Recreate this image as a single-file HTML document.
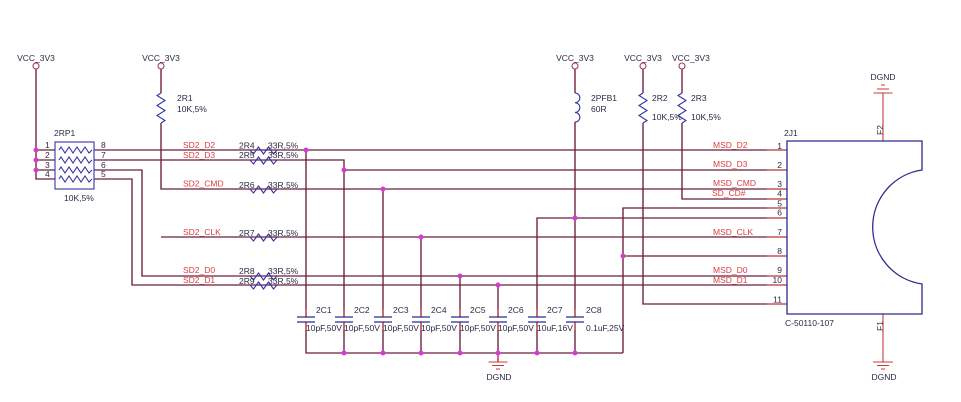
<!DOCTYPE html>
<html><head><meta charset="utf-8"><style>
html,body{margin:0;padding:0;background:#fff;width:961px;height:402px;overflow:hidden}
svg{display:block}
text{font-family:"Liberation Sans",Arial,sans-serif;font-size:8.5px;fill:#2a2a45}
.r{fill:#d8403f}
.w{stroke:#6b1d3d;stroke-width:1.35;fill:none}
.b{stroke:#3535a5;stroke-width:1.1;fill:none}
.p{stroke:#c83a3a;stroke-width:1.1;fill:none}
.d{fill:#d23cd2}
</style></head><body>
<svg width="961" height="402" viewBox="0 0 961 402" xmlns="http://www.w3.org/2000/svg">
<rect width="961" height="402" fill="#fff"/>
<g class="w">
<path d="M36,69 V179 H55 M36,150 H55 M36,160 H55 M36,170 H55"/>
<path d="M94,150 H787"/>
<path d="M94,160 H344 V317"/>
<path d="M344,170 H787"/>
<path d="M94,170 H142 V276 H787"/>
<path d="M94,179 H132 V285 H787"/>
<path d="M161,69 V93 M161,123 V189 H787"/>
<path d="M161,237 H787"/>
<path d="M306,150 V317 M383,189 V317 M421,237 V317 M460,276 V317 M498,285 V317"/>
<path d="M537,317 V218 H787"/>
<path d="M575,69 V93 M575,122 V317"/>
<path d="M643,69 V93 M643,123 V304 H787"/>
<path d="M682,69 V93 M682,123 V199 H787"/>
<path d="M787,208 H623 V353 M623,256 H787"/>
<path d="M306,322 V353 H623 M344,322 V353 M383,322 V353 M421,322 V353 M460,322 V353 M498,322 V362 M537,322 V353 M575,322 V353"/>
</g>
<g fill="#fff" stroke="#a83a4a" stroke-width="1.1">
<circle cx="36" cy="66" r="3"/><circle cx="161" cy="66" r="3"/><circle cx="575" cy="66" r="3"/><circle cx="643" cy="66" r="3"/><circle cx="682" cy="66" r="3"/>
</g>
<g class="b">
<path d="M161,93 l-4,2.5 l8,5 l-8,5 l8,5 l-8,5 l8,5 l-4,2.5"/>
<path d="M643,93 l-4,2.5 l8,5 l-8,5 l8,5 l-8,5 l8,5 l-4,2.5"/>
<path d="M682,93 l-4,2.5 l8,5 l-8,5 l8,5 l-8,5 l8,5 l-4,2.5"/>
<path d="M575,93 a4.8,4.8 0 0 1 0,9.7 a4.8,4.8 0 0 1 0,9.7 a4.8,4.8 0 0 1 0,9.7"/>
</g>
<g class="b">
<path d="M250,150 l3.5,4 l5,-7 l5,7 l5,-7 l5,7 l3.5,-4"/>
<path d="M250,160 l3.5,4 l5,-7 l5,7 l5,-7 l5,7 l3.5,-4"/>
<path d="M250,189 l3.5,4 l5,-7 l5,7 l5,-7 l5,7 l3.5,-4"/>
<path d="M250,237 l3.5,4 l5,-7 l5,7 l5,-7 l5,7 l3.5,-4"/>
<path d="M250,276 l3.5,4 l5,-7 l5,7 l5,-7 l5,7 l3.5,-4"/>
<path d="M250,285 l3.5,4 l5,-7 l5,7 l5,-7 l5,7 l3.5,-4"/>
</g>
<rect x="55" y="142" width="39" height="47" fill="none" stroke="#3535a5" stroke-width="1.1"/>
<g class="b">
<path d="M59,150 l2,-3 l4,6 l4,-6 l4,6 l4,-6 l4,6 l4,-6 l4,6 l3,-3"/>
<path d="M59,160 l2,-3 l4,6 l4,-6 l4,6 l4,-6 l4,6 l4,-6 l4,6 l3,-3"/>
<path d="M59,170 l2,-3 l4,6 l4,-6 l4,6 l4,-6 l4,6 l4,-6 l4,6 l3,-3"/>
<path d="M59,179 l2,-3 l4,6 l4,-6 l4,6 l4,-6 l4,6 l4,-6 l4,6 l3,-3"/>
</g>
<g class="p">
<path d="M306,309 V317 M306,322 V330 M344,309 V317 M344,322 V330 M383,309 V317 M383,322 V330 M421,309 V317 M421,322 V330 M460,309 V317 M460,322 V330 M498,309 V317 M498,322 V330 M537,309 V317 M537,322 V330 M575,309 V317 M575,322 V330"/>
</g>
<g stroke="#2a2a90" stroke-width="1.3">
<path d="M297,317 H315 M297,322 H315 M335,317 H353 M335,322 H353 M374,317 H392 M374,322 H392 M412,317 H430 M412,322 H430 M451,317 H469 M451,322 H469 M489,317 H507 M489,322 H507 M528,317 H546 M528,322 H546 M566,317 H584 M566,322 H584"/>
</g>
<g class="p">
<path d="M767,150 H787 M767,170 H787 M767,189 H787 M767,199 H787 M767,208 H787 M767,218 H787 M767,237 H787 M767,256 H787 M767,276 H787 M767,285 H787 M767,304 H787"/>
<path d="M883,141 V93 M873.5,93 H892.5 M877,89 H889 M881,85 H885"/>
<path d="M883,314 V362 M873,362 H893 M877,365.5 H889 M881,369 H885"/>
<path d="M498,353 V362 M488.5,362 H507.5 M492,365.5 H504 M496,369 H500"/>
</g>
<path d="M787,141 H922 V170 A57.6,57.6 0 0 0 922,284 V314 H787 Z" fill="none" stroke="#2a2a90" stroke-width="1.3"/>
<g class="d">
<circle cx="36" cy="150" r="2.5"/><circle cx="36" cy="160" r="2.5"/><circle cx="36" cy="170" r="2.5"/>
<circle cx="306" cy="150" r="2.5"/><circle cx="344" cy="170" r="2.5"/><circle cx="383" cy="189" r="2.5"/>
<circle cx="421" cy="237" r="2.5"/><circle cx="460" cy="276" r="2.5"/><circle cx="498" cy="285" r="2.5"/>
<circle cx="575" cy="218" r="2.5"/><circle cx="623" cy="256" r="2.5"/>
<circle cx="344" cy="353" r="2.5"/><circle cx="383" cy="353" r="2.5"/><circle cx="421" cy="353" r="2.5"/>
<circle cx="460" cy="353" r="2.5"/><circle cx="498" cy="353" r="2.5"/><circle cx="537" cy="353" r="2.5"/><circle cx="575" cy="353" r="2.5"/>
</g>
<text x="36" y="61" text-anchor="middle">VCC_3V3</text>
<text x="161" y="61" text-anchor="middle">VCC_3V3</text>
<text x="575" y="61" text-anchor="middle">VCC_3V3</text>
<text x="643" y="61" text-anchor="middle">VCC_3V3</text>
<text x="672" y="61">VCC_3V3</text>
<text x="177" y="101">2R1</text><text x="177" y="112">10K,5%</text>
<text x="591" y="101">2PFB1</text><text x="591" y="112">60R</text>
<text x="652" y="101">2R2</text><text x="652" y="120">10K,5%</text>
<text x="691" y="101">2R3</text><text x="691" y="120">10K,5%</text>
<text x="54" y="136">2RP1</text><text x="64" y="201">10K,5%</text>
<text x="45" y="148">1</text><text x="45" y="158">2</text><text x="45" y="168">3</text><text x="45" y="177">4</text>
<text x="101" y="148">8</text><text x="101" y="158">7</text><text x="101" y="168">6</text><text x="101" y="177">5</text>
<text x="239" y="148.5">2R4</text><text x="268" y="148.5">33R,5%</text>
<text x="239" y="158">2R5</text><text x="268" y="158">33R,5%</text>
<text x="239" y="188">2R6</text><text x="268" y="188">33R,5%</text>
<text x="239" y="236">2R7</text><text x="268" y="236">33R,5%</text>
<text x="239" y="274">2R8</text><text x="268" y="274">33R,5%</text>
<text x="239" y="284">2R9</text><text x="268" y="284">33R,5%</text>
<text class="r" x="183" y="148">SD2_D2</text>
<text class="r" x="183" y="158">SD2_D3</text>
<text class="r" x="183" y="186.5">SD2_CMD</text>
<text class="r" x="183" y="235">SD2_CLK</text>
<text class="r" x="183" y="273">SD2_D0</text>
<text class="r" x="183" y="283">SD2_D1</text>
<text class="r" x="713" y="148">MSD_D2</text>
<text class="r" x="713" y="167">MSD_D3</text>
<text class="r" x="713" y="186">MSD_CMD</text>
<text class="r" x="712" y="196">SD_CD#</text>
<text class="r" x="713" y="235">MSD_CLK</text>
<text class="r" x="713" y="273">MSD_D0</text>
<text class="r" x="713" y="283">MSD_D1</text>
<g style="font-size:9px">
<text x="782" y="149" text-anchor="end">1</text>
<text x="782" y="168" text-anchor="end">2</text>
<text x="782" y="187" text-anchor="end">3</text>
<text x="782" y="196.5" text-anchor="end">4</text>
<text x="782" y="206.5" text-anchor="end">5</text>
<text x="782" y="215.5" text-anchor="end">6</text>
<text x="782" y="235" text-anchor="end">7</text>
<text x="782" y="254" text-anchor="end">8</text>
<text x="782" y="273" text-anchor="end">9</text>
<text x="782" y="283" text-anchor="end">10</text>
<text x="782" y="302.5" text-anchor="end">11</text>
</g>
<text x="784" y="136">2J1</text>
<text x="785" y="326">C-50110-107</text>
<text transform="translate(883,130) rotate(-90)" text-anchor="middle">F2</text>
<text transform="translate(883,326) rotate(-90)" text-anchor="middle">F1</text>
<text x="883" y="80" text-anchor="middle">DGND</text>
<text x="884" y="380" text-anchor="middle">DGND</text>
<text x="499" y="380" text-anchor="middle">DGND</text>
<text x="316" y="313">2C1</text><text x="354" y="313">2C2</text><text x="393" y="313">2C3</text><text x="431" y="313">2C4</text>
<text x="470" y="313">2C5</text><text x="508" y="313">2C6</text><text x="547" y="313">2C7</text><text x="586" y="313">2C8</text>
<text x="306" y="331">10pF,50V</text><text x="344" y="331">10pF,50V</text><text x="383" y="331">10pF,50V</text>
<text x="421" y="331">10pF,50V</text><text x="460" y="331">10pF,50V</text><text x="498" y="331">10pF,50V</text>
<text x="537" y="331">10uF,16V</text><text x="586" y="331">0.1uF,25V</text>
</svg>
</body></html>
